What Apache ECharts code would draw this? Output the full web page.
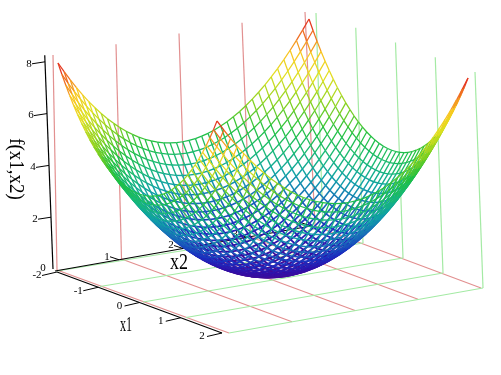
<!DOCTYPE html>
<html><head><meta charset="utf-8">
<style>html,body{margin:0;padding:0;background:#fff}#c{width:501px;height:375px}</style>
<script src="https://cdn.jsdelivr.net/npm/echarts@6/dist/echarts.min.js"></script>
</head><body><div id="c"></div>
<script>
const x1Ticks=[-2,-1,0,1,2];
const x2Ticks=[0,1,2,3,4];
const zTicks=[2,4,6,8];
const x1Values=[-2,-1.9,-1.8,-1.7,-1.6,-1.5,-1.4,-1.3,-1.2,-1.1,-1,-0.9,-0.8,-0.7,-0.6,-0.5,-0.4,-0.3,-0.2,-0.1,0,0.1,0.2,0.3,0.4,0.5,0.6,0.7,0.8,0.9,1,1.1,1.2,1.3,1.4,1.5,1.6,1.7,1.8,1.9,2];
const x2Values=[0,0.1,0.2,0.3,0.4,0.5,0.6,0.7,0.8,0.9,1,1.1,1.2,1.3,1.4,1.5,1.6,1.7,1.8,1.9,2,2.1,2.2,2.3,2.4,2.5,2.6,2.7,2.8,2.9,3,3.1,3.2,3.3,3.4,3.5,3.6,3.7,3.8,3.9,4];
const heights=[
[8,7.61,7.24,6.89,6.56,6.25,5.96,5.69,5.44,5.21,5,4.81,4.64,4.49,4.36,4.25,4.16,4.09,4.04,4.01,4,4.01,4.04,4.09,4.16,4.25,4.36,4.49,4.64,4.81,5,5.21,5.44,5.69,5.96,6.25,6.56,6.89,7.24,7.61,8],
[7.61,7.22,6.85,6.5,6.17,5.86,5.57,5.3,5.05,4.82,4.61,4.42,4.25,4.1,3.97,3.86,3.77,3.7,3.65,3.62,3.61,3.62,3.65,3.7,3.77,3.86,3.97,4.1,4.25,4.42,4.61,4.82,5.05,5.3,5.57,5.86,6.17,6.5,6.85,7.22,7.61],
[7.24,6.85,6.48,6.13,5.8,5.49,5.2,4.93,4.68,4.45,4.24,4.05,3.88,3.73,3.6,3.49,3.4,3.33,3.28,3.25,3.24,3.25,3.28,3.33,3.4,3.49,3.6,3.73,3.88,4.05,4.24,4.45,4.68,4.93,5.2,5.49,5.8,6.13,6.48,6.85,7.24],
[6.89,6.5,6.13,5.78,5.45,5.14,4.85,4.58,4.33,4.1,3.89,3.7,3.53,3.38,3.25,3.14,3.05,2.98,2.93,2.9,2.89,2.9,2.93,2.98,3.05,3.14,3.25,3.38,3.53,3.7,3.89,4.1,4.33,4.58,4.85,5.14,5.45,5.78,6.13,6.5,6.89],
[6.56,6.17,5.8,5.45,5.12,4.81,4.52,4.25,4,3.77,3.56,3.37,3.2,3.05,2.92,2.81,2.72,2.65,2.6,2.57,2.56,2.57,2.6,2.65,2.72,2.81,2.92,3.05,3.2,3.37,3.56,3.77,4,4.25,4.52,4.81,5.12,5.45,5.8,6.17,6.56],
[6.25,5.86,5.49,5.14,4.81,4.5,4.21,3.94,3.69,3.46,3.25,3.06,2.89,2.74,2.61,2.5,2.41,2.34,2.29,2.26,2.25,2.26,2.29,2.34,2.41,2.5,2.61,2.74,2.89,3.06,3.25,3.46,3.69,3.94,4.21,4.5,4.81,5.14,5.49,5.86,6.25],
[5.96,5.57,5.2,4.85,4.52,4.21,3.92,3.65,3.4,3.17,2.96,2.77,2.6,2.45,2.32,2.21,2.12,2.05,2,1.97,1.96,1.97,2,2.05,2.12,2.21,2.32,2.45,2.6,2.77,2.96,3.17,3.4,3.65,3.92,4.21,4.52,4.85,5.2,5.57,5.96],
[5.69,5.3,4.93,4.58,4.25,3.94,3.65,3.38,3.13,2.9,2.69,2.5,2.33,2.18,2.05,1.94,1.85,1.78,1.73,1.7,1.69,1.7,1.73,1.78,1.85,1.94,2.05,2.18,2.33,2.5,2.69,2.9,3.13,3.38,3.65,3.94,4.25,4.58,4.93,5.3,5.69],
[5.44,5.05,4.68,4.33,4,3.69,3.4,3.13,2.88,2.65,2.44,2.25,2.08,1.93,1.8,1.69,1.6,1.53,1.48,1.45,1.44,1.45,1.48,1.53,1.6,1.69,1.8,1.93,2.08,2.25,2.44,2.65,2.88,3.13,3.4,3.69,4,4.33,4.68,5.05,5.44],
[5.21,4.82,4.45,4.1,3.77,3.46,3.17,2.9,2.65,2.42,2.21,2.02,1.85,1.7,1.57,1.46,1.37,1.3,1.25,1.22,1.21,1.22,1.25,1.3,1.37,1.46,1.57,1.7,1.85,2.02,2.21,2.42,2.65,2.9,3.17,3.46,3.77,4.1,4.45,4.82,5.21],
[5,4.61,4.24,3.89,3.56,3.25,2.96,2.69,2.44,2.21,2,1.81,1.64,1.49,1.36,1.25,1.16,1.09,1.04,1.01,1,1.01,1.04,1.09,1.16,1.25,1.36,1.49,1.64,1.81,2,2.21,2.44,2.69,2.96,3.25,3.56,3.89,4.24,4.61,5],
[4.81,4.42,4.05,3.7,3.37,3.06,2.77,2.5,2.25,2.02,1.81,1.62,1.45,1.3,1.17,1.06,0.97,0.9,0.85,0.82,0.81,0.82,0.85,0.9,0.97,1.06,1.17,1.3,1.45,1.62,1.81,2.02,2.25,2.5,2.77,3.06,3.37,3.7,4.05,4.42,4.81],
[4.64,4.25,3.88,3.53,3.2,2.89,2.6,2.33,2.08,1.85,1.64,1.45,1.28,1.13,1,0.89,0.8,0.73,0.68,0.65,0.64,0.65,0.68,0.73,0.8,0.89,1,1.13,1.28,1.45,1.64,1.85,2.08,2.33,2.6,2.89,3.2,3.53,3.88,4.25,4.64],
[4.49,4.1,3.73,3.38,3.05,2.74,2.45,2.18,1.93,1.7,1.49,1.3,1.13,0.98,0.85,0.74,0.65,0.58,0.53,0.5,0.49,0.5,0.53,0.58,0.65,0.74,0.85,0.98,1.13,1.3,1.49,1.7,1.93,2.18,2.45,2.74,3.05,3.38,3.73,4.1,4.49],
[4.36,3.97,3.6,3.25,2.92,2.61,2.32,2.05,1.8,1.57,1.36,1.17,1,0.85,0.72,0.61,0.52,0.45,0.4,0.37,0.36,0.37,0.4,0.45,0.52,0.61,0.72,0.85,1,1.17,1.36,1.57,1.8,2.05,2.32,2.61,2.92,3.25,3.6,3.97,4.36],
[4.25,3.86,3.49,3.14,2.81,2.5,2.21,1.94,1.69,1.46,1.25,1.06,0.89,0.74,0.61,0.5,0.41,0.34,0.29,0.26,0.25,0.26,0.29,0.34,0.41,0.5,0.61,0.74,0.89,1.06,1.25,1.46,1.69,1.94,2.21,2.5,2.81,3.14,3.49,3.86,4.25],
[4.16,3.77,3.4,3.05,2.72,2.41,2.12,1.85,1.6,1.37,1.16,0.97,0.8,0.65,0.52,0.41,0.32,0.25,0.2,0.17,0.16,0.17,0.2,0.25,0.32,0.41,0.52,0.65,0.8,0.97,1.16,1.37,1.6,1.85,2.12,2.41,2.72,3.05,3.4,3.77,4.16],
[4.09,3.7,3.33,2.98,2.65,2.34,2.05,1.78,1.53,1.3,1.09,0.9,0.73,0.58,0.45,0.34,0.25,0.18,0.13,0.1,0.09,0.1,0.13,0.18,0.25,0.34,0.45,0.58,0.73,0.9,1.09,1.3,1.53,1.78,2.05,2.34,2.65,2.98,3.33,3.7,4.09],
[4.04,3.65,3.28,2.93,2.6,2.29,2,1.73,1.48,1.25,1.04,0.85,0.68,0.53,0.4,0.29,0.2,0.13,0.08,0.05,0.04,0.05,0.08,0.13,0.2,0.29,0.4,0.53,0.68,0.85,1.04,1.25,1.48,1.73,2,2.29,2.6,2.93,3.28,3.65,4.04],
[4.01,3.62,3.25,2.9,2.57,2.26,1.97,1.7,1.45,1.22,1.01,0.82,0.65,0.5,0.37,0.26,0.17,0.1,0.05,0.02,0.01,0.02,0.05,0.1,0.17,0.26,0.37,0.5,0.65,0.82,1.01,1.22,1.45,1.7,1.97,2.26,2.57,2.9,3.25,3.62,4.01],
[4,3.61,3.24,2.89,2.56,2.25,1.96,1.69,1.44,1.21,1,0.81,0.64,0.49,0.36,0.25,0.16,0.09,0.04,0.01,0,0.01,0.04,0.09,0.16,0.25,0.36,0.49,0.64,0.81,1,1.21,1.44,1.69,1.96,2.25,2.56,2.89,3.24,3.61,4],
[4.01,3.62,3.25,2.9,2.57,2.26,1.97,1.7,1.45,1.22,1.01,0.82,0.65,0.5,0.37,0.26,0.17,0.1,0.05,0.02,0.01,0.02,0.05,0.1,0.17,0.26,0.37,0.5,0.65,0.82,1.01,1.22,1.45,1.7,1.97,2.26,2.57,2.9,3.25,3.62,4.01],
[4.04,3.65,3.28,2.93,2.6,2.29,2,1.73,1.48,1.25,1.04,0.85,0.68,0.53,0.4,0.29,0.2,0.13,0.08,0.05,0.04,0.05,0.08,0.13,0.2,0.29,0.4,0.53,0.68,0.85,1.04,1.25,1.48,1.73,2,2.29,2.6,2.93,3.28,3.65,4.04],
[4.09,3.7,3.33,2.98,2.65,2.34,2.05,1.78,1.53,1.3,1.09,0.9,0.73,0.58,0.45,0.34,0.25,0.18,0.13,0.1,0.09,0.1,0.13,0.18,0.25,0.34,0.45,0.58,0.73,0.9,1.09,1.3,1.53,1.78,2.05,2.34,2.65,2.98,3.33,3.7,4.09],
[4.16,3.77,3.4,3.05,2.72,2.41,2.12,1.85,1.6,1.37,1.16,0.97,0.8,0.65,0.52,0.41,0.32,0.25,0.2,0.17,0.16,0.17,0.2,0.25,0.32,0.41,0.52,0.65,0.8,0.97,1.16,1.37,1.6,1.85,2.12,2.41,2.72,3.05,3.4,3.77,4.16],
[4.25,3.86,3.49,3.14,2.81,2.5,2.21,1.94,1.69,1.46,1.25,1.06,0.89,0.74,0.61,0.5,0.41,0.34,0.29,0.26,0.25,0.26,0.29,0.34,0.41,0.5,0.61,0.74,0.89,1.06,1.25,1.46,1.69,1.94,2.21,2.5,2.81,3.14,3.49,3.86,4.25],
[4.36,3.97,3.6,3.25,2.92,2.61,2.32,2.05,1.8,1.57,1.36,1.17,1,0.85,0.72,0.61,0.52,0.45,0.4,0.37,0.36,0.37,0.4,0.45,0.52,0.61,0.72,0.85,1,1.17,1.36,1.57,1.8,2.05,2.32,2.61,2.92,3.25,3.6,3.97,4.36],
[4.49,4.1,3.73,3.38,3.05,2.74,2.45,2.18,1.93,1.7,1.49,1.3,1.13,0.98,0.85,0.74,0.65,0.58,0.53,0.5,0.49,0.5,0.53,0.58,0.65,0.74,0.85,0.98,1.13,1.3,1.49,1.7,1.93,2.18,2.45,2.74,3.05,3.38,3.73,4.1,4.49],
[4.64,4.25,3.88,3.53,3.2,2.89,2.6,2.33,2.08,1.85,1.64,1.45,1.28,1.13,1,0.89,0.8,0.73,0.68,0.65,0.64,0.65,0.68,0.73,0.8,0.89,1,1.13,1.28,1.45,1.64,1.85,2.08,2.33,2.6,2.89,3.2,3.53,3.88,4.25,4.64],
[4.81,4.42,4.05,3.7,3.37,3.06,2.77,2.5,2.25,2.02,1.81,1.62,1.45,1.3,1.17,1.06,0.97,0.9,0.85,0.82,0.81,0.82,0.85,0.9,0.97,1.06,1.17,1.3,1.45,1.62,1.81,2.02,2.25,2.5,2.77,3.06,3.37,3.7,4.05,4.42,4.81],
[5,4.61,4.24,3.89,3.56,3.25,2.96,2.69,2.44,2.21,2,1.81,1.64,1.49,1.36,1.25,1.16,1.09,1.04,1.01,1,1.01,1.04,1.09,1.16,1.25,1.36,1.49,1.64,1.81,2,2.21,2.44,2.69,2.96,3.25,3.56,3.89,4.24,4.61,5],
[5.21,4.82,4.45,4.1,3.77,3.46,3.17,2.9,2.65,2.42,2.21,2.02,1.85,1.7,1.57,1.46,1.37,1.3,1.25,1.22,1.21,1.22,1.25,1.3,1.37,1.46,1.57,1.7,1.85,2.02,2.21,2.42,2.65,2.9,3.17,3.46,3.77,4.1,4.45,4.82,5.21],
[5.44,5.05,4.68,4.33,4,3.69,3.4,3.13,2.88,2.65,2.44,2.25,2.08,1.93,1.8,1.69,1.6,1.53,1.48,1.45,1.44,1.45,1.48,1.53,1.6,1.69,1.8,1.93,2.08,2.25,2.44,2.65,2.88,3.13,3.4,3.69,4,4.33,4.68,5.05,5.44],
[5.69,5.3,4.93,4.58,4.25,3.94,3.65,3.38,3.13,2.9,2.69,2.5,2.33,2.18,2.05,1.94,1.85,1.78,1.73,1.7,1.69,1.7,1.73,1.78,1.85,1.94,2.05,2.18,2.33,2.5,2.69,2.9,3.13,3.38,3.65,3.94,4.25,4.58,4.93,5.3,5.69],
[5.96,5.57,5.2,4.85,4.52,4.21,3.92,3.65,3.4,3.17,2.96,2.77,2.6,2.45,2.32,2.21,2.12,2.05,2,1.97,1.96,1.97,2,2.05,2.12,2.21,2.32,2.45,2.6,2.77,2.96,3.17,3.4,3.65,3.92,4.21,4.52,4.85,5.2,5.57,5.96],
[6.25,5.86,5.49,5.14,4.81,4.5,4.21,3.94,3.69,3.46,3.25,3.06,2.89,2.74,2.61,2.5,2.41,2.34,2.29,2.26,2.25,2.26,2.29,2.34,2.41,2.5,2.61,2.74,2.89,3.06,3.25,3.46,3.69,3.94,4.21,4.5,4.81,5.14,5.49,5.86,6.25],
[6.56,6.17,5.8,5.45,5.12,4.81,4.52,4.25,4,3.77,3.56,3.37,3.2,3.05,2.92,2.81,2.72,2.65,2.6,2.57,2.56,2.57,2.6,2.65,2.72,2.81,2.92,3.05,3.2,3.37,3.56,3.77,4,4.25,4.52,4.81,5.12,5.45,5.8,6.17,6.56],
[6.89,6.5,6.13,5.78,5.45,5.14,4.85,4.58,4.33,4.1,3.89,3.7,3.53,3.38,3.25,3.14,3.05,2.98,2.93,2.9,2.89,2.9,2.93,2.98,3.05,3.14,3.25,3.38,3.53,3.7,3.89,4.1,4.33,4.58,4.85,5.14,5.45,5.78,6.13,6.5,6.89],
[7.24,6.85,6.48,6.13,5.8,5.49,5.2,4.93,4.68,4.45,4.24,4.05,3.88,3.73,3.6,3.49,3.4,3.33,3.28,3.25,3.24,3.25,3.28,3.33,3.4,3.49,3.6,3.73,3.88,4.05,4.24,4.45,4.68,4.93,5.2,5.49,5.8,6.13,6.48,6.85,7.24],
[7.61,7.22,6.85,6.5,6.17,5.86,5.57,5.3,5.05,4.82,4.61,4.42,4.25,4.1,3.97,3.86,3.77,3.7,3.65,3.62,3.61,3.62,3.65,3.7,3.77,3.86,3.97,4.1,4.25,4.42,4.61,4.82,5.05,5.3,5.57,5.86,6.17,6.5,6.85,7.22,7.61],
[8,7.61,7.24,6.89,6.56,6.25,5.96,5.69,5.44,5.21,5,4.81,4.64,4.49,4.36,4.25,4.16,4.09,4.04,4.01,4,4.01,4.04,4.09,4.16,4.25,4.36,4.49,4.64,4.81,5,5.21,5.44,5.69,5.96,6.25,6.56,6.89,7.24,7.61,8]
];
const colorStops=[[0,'#4a0a90'],[0.6,'#3010a8'],[1.2,'#1a30c0'],[2,'#1870b8'],[2.7,'#10a0a8'],[3.4,'#18b878'],[4.2,'#20c040'],[5,'#80d020'],[6,'#e0e020'],[6.7,'#f8c820'],[7.4,'#f07020'],[8,'#e02020']];

const lerp=(a,b,t)=>a+(b-a)*t;
function bil(c,u,v){
  const px=lerp(lerp(c[0][0],c[1][0],u),lerp(c[3][0],c[2][0],u),v);
  const py=lerp(lerp(c[0][1],c[1][1],u),lerp(c[3][1],c[2][1],u),v);
  return [px,py];
}
const surfTop=[[58,63],[217,121],[468,78],[309,19]];
const surfBase=[[55,264.5],[227,327.5],[481,283.5],[309,220.5]];
function project(x1,x2,z){
  const u=(x1+2)/4,v=x2/4,t=z/8;
  const a=bil(surfBase,u,v),b=bil(surfTop,u,v);
  return [lerp(a[0],b[0],t),lerp(a[1],b[1],t)];
}
function hex(c){return [parseInt(c.slice(1,3),16),parseInt(c.slice(3,5),16),parseInt(c.slice(5,7),16)];}
function colorOf(z){
  for(let i=1;i<colorStops.length;i++){
    if(z<=colorStops[i][0]){
      const t=(z-colorStops[i-1][0])/(colorStops[i][0]-colorStops[i-1][0]);
      const a=hex(colorStops[i-1][1]),b=hex(colorStops[i][1]);
      return 'rgb('+a.map((v,k)=>Math.round(lerp(v,b[k],t))).join(',')+')';
    }
  }
  return colorStops[colorStops.length-1][1];
}
const segments=[];
x1Values.forEach((a,i)=>x2Values.forEach((b,j)=>{
  if(j<x2Values.length-1)segments.push([a,b,heights[i][j],a,x2Values[j+1],heights[i][j+1]]);
  if(i<x1Values.length-1)segments.push([a,b,heights[i][j],x1Values[i+1],b,heights[i+1][j]]);
}));
segments.sort((p,q)=>((p[0]+p[3])-(p[1]+p[4]))-((q[0]+q[3])-(q[1]+q[4])));

const redFloor=[[57,270],[229,333],[481,288],[315,226]];
const greenFloor=[[57,271],[229,333],[483,288],[323,228]];
const frame=[];
const RED='#e29090',GREEN='#a4eaa4',BLACK='#000';
x2Ticks.forEach(b=>{
  const v=b/4;
  const p0=bil(redFloor,0,v),p1=bil(redFloor,1,v);
  frame.push([p0,p1,RED,1.2]);
  const top=[lerp(53,305,v),lerp(55,12,v)];
  frame.push([p0,top,RED,1.2]);
});
x1Ticks.forEach(a=>{
  const u=(a+2)/4;
  const p0=bil(greenFloor,u,0),p1=bil(greenFloor,u,1);
  frame.push([p0,p1,GREEN,1.2]);
  const top=[lerp(316,475,u),lerp(13,72,u)];
  frame.push([p1,top,GREEN,1.2]);
});
const axX1=a=>{const u=(a+2)/4;return [lerp(57,222,u),lerp(272,333,u)];};
const axX2=b=>{const v=b/4;return [lerp(55,311,v),lerp(271,226,v)];};
const axZ=z=>[53-z,269-25.9*z];
frame.push([axX1(-2),axX1(2),BLACK,1.2]);
frame.push([axX2(0),axX2(4),BLACK,1.2]);
frame.push([axZ(0),axZ(8.25),BLACK,1.2]);
const labels=[];
const txt=(text,p,fs)=>labels.push({type:'text',x:p[0],y:p[1],z:1,silent:true,style:{text:String(text),font:(fs||11)+'px "Liberation Serif"',fill:'#000',align:'center',verticalAlign:'middle'}});
x1Ticks.forEach(a=>{const p=axX1(a);frame.push([p,[p[0]-15,p[1]+3.5],BLACK,1]);txt(a,[p[0]-20,p[1]+3.5]);});
x2Ticks.forEach(b=>{const p=axX2(b);if(b>0)frame.push([p,[p[0]-9,p[1]-3],BLACK,1]);txt(b,[p[0]-12,p[1]-3]);});
zTicks.forEach(z=>{const p=axZ(z);frame.push([p,[p[0]-13,p[1]+2],BLACK,1]);txt(z,[p[0]-16,p[1]+2]);});
labels.push({type:'text',x:179,y:263,z:1,scaleX:0.75,silent:true,style:{text:'x2',font:'24px "Liberation Serif"',fill:'#000',align:'center',verticalAlign:'middle'}});
labels.push({type:'text',x:126,y:325,z:1,scaleX:0.55,silent:true,style:{text:'x1',font:'22px "Liberation Serif"',fill:'#000',align:'center',verticalAlign:'middle'}});
labels.push({type:'text',x:15,y:169,z:1,rotation:-Math.PI/2,scaleX:0.95,silent:true,style:{text:'f(x1,x2)',font:'20px "Liberation Serif"',fill:'#000',align:'center',verticalAlign:'middle'}});

const chart=echarts.init(document.getElementById('c'),null,{renderer:'canvas'});
chart.setOption({
  animation:false,backgroundColor:'#fff',
  grid:{left:0,right:0,top:0,bottom:0},
  xAxis:{type:'value',min:0,max:501,show:false},
  yAxis:{type:'value',min:0,max:375,inverse:true,show:false},
  graphic:labels,
  series:[
    {type:'custom',z:1,silent:true,clip:false,progressive:0,data:frame.map((f,i)=>[i,i]),encode:{x:0,y:1},
     renderItem(params,api){
       const f=frame[api.value(0)];
       const a=api.coord(f[0]),b=api.coord(f[1]);
       return {type:'line',shape:{x1:a[0],y1:a[1],x2:b[0],y2:b[1]},style:{stroke:f[2],lineWidth:f[3]}};
     }},
    {type:'custom',z:3,silent:true,clip:false,progressive:0,data:segments,encode:{x:-1,y:-1},
     renderItem(params,api){
       const p=[0,1,2,3,4,5].map(k=>api.value(k));
       const a=api.coord(project(p[0],p[1],p[2])),b=api.coord(project(p[3],p[4],p[5]));
       const mid=(p[2]+p[5])/2;
       return {type:'line',shape:{x1:a[0],y1:a[1],x2:b[0],y2:b[1]},style:{stroke:colorOf(mid),lineWidth:mid<4?lerp(1.9,1.25,mid/4):1.25}};
     }}
  ]
});
</script></body></html>
